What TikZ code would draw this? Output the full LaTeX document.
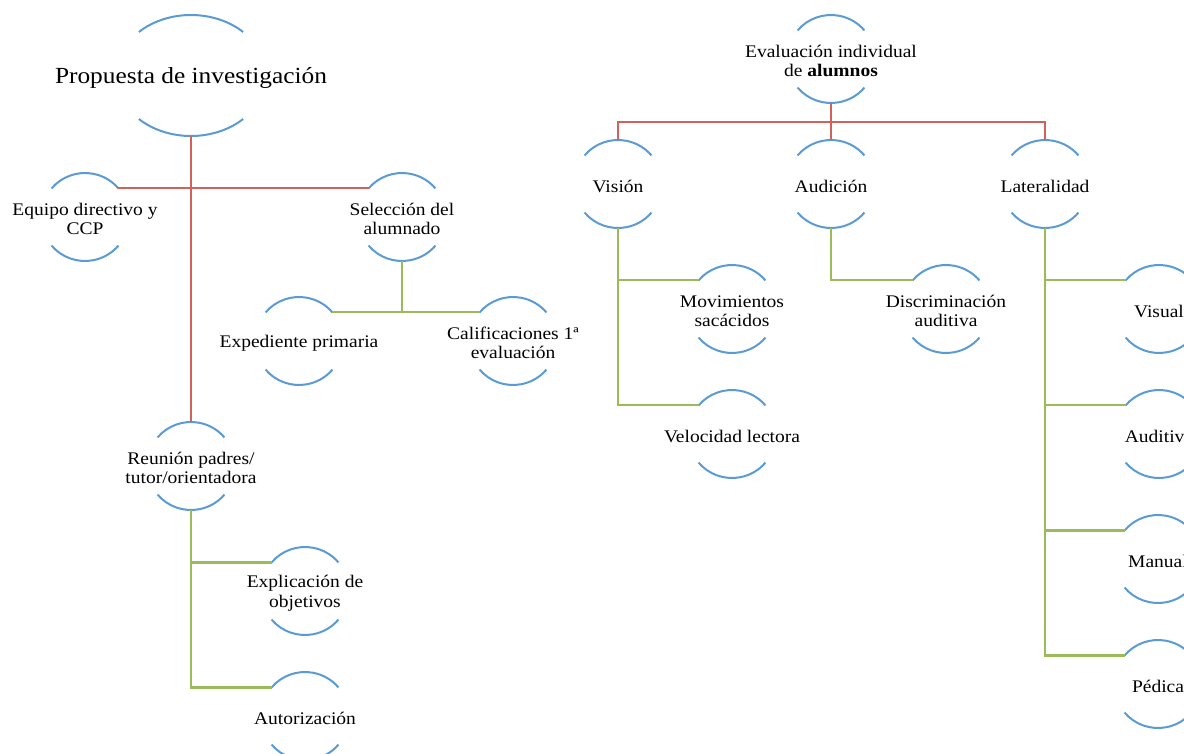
\documentclass[tikz,border=0pt]{standalone}
\usepackage{fontspec}
\setmainfont{Liberation Serif}[FakeStretch=1.1]
\usetikzlibrary{calc}
\definecolor{arcblue}{RGB}{91,155,213}
\definecolor{linered}{RGB}{208,98,92}
\definecolor{linegreen}{RGB}{155,187,89}
\tikzset{
  arcsty/.style={draw=arcblue, line width=1.5pt},
  redline/.style={draw=linered, line width=1.6pt},
  greenline/.style={draw=linegreen, line width=1.6pt},
  lbl/.style={inner sep=0pt, align=center, yshift=-1.5pt, font=\fontsize{13.3}{14.6}\selectfont},
  biglbl/.style={inner sep=0pt, align=center, yshift=-2pt, font=\fontsize{17.3}{20}\selectfont},
}
% name, x, y, rx, ry, half-angle, text, label style
\newcommand{\hnode}[8]{%
  \node[#8] (#1) at (#2,#3) {#7};
  \path (#2,#3) ++({-#4*cos(#6)},{-#5*sin(#6)}) coordinate (#1-tl);
  \path (#2,#3) ++({#4*cos(#6)},{-#5*sin(#6)}) coordinate (#1-tr);
  \path (#2,#3) ++({-#4*cos(#6)},{#5*sin(#6)}) coordinate (#1-bl);
  \path (#2,#3) ++({#4*cos(#6)},{#5*sin(#6)}) coordinate (#1-br);
  \path (#2,#3) ++(0,{-#5}) coordinate (#1-t);
  \path (#2,#3) ++(0,{#5}) coordinate (#1-b);
  \draw[arcsty] (#1-tl) arc[start angle={180+#6}, end angle={360-#6}, x radius=#4, y radius=#5];
  \draw[arcsty] (#1-bl) arc[start angle={180-#6}, end angle={#6}, x radius=#4, y radius=#5];
}
\newcommand{\snode}[4]{\hnode{#1}{#2}{#3}{44}{44}{40.5}{#4}{lbl}}
\begin{document}
\begin{tikzpicture}[x=0.75pt, y=-0.75pt]
\useasboundingbox (0,0) rectangle (1184,753);
\clip (0,0) rectangle (1184,753);
\fill[white] (0,0) rectangle (1184,753);

% ---------- left tree ----------
\hnode{P}{191}{75.5}{75}{60.5}{46}{Propuesta de investigación}{biglbl}
\snode{E}{85}{217}{Equipo directivo y\\CCP}
\snode{S}{402}{217}{Selección del\\alumnado}
\snode{Ex}{299}{341}{Expediente primaria}
\snode{C}{513}{341}{Calificaciones 1ª\\evaluación}
\snode{R}{191}{466}{Reunión padres/\\tutor/orientadora}
\snode{Xo}{305}{591}{Explicación de\\objetivos}
\snode{A}{305}{716}{Autorización}

\draw[redline] (P-b) -- (R-t);
\draw[redline] (E-tr) -- (S-tl);
\draw[greenline] (S-b) -- (S-b |- Ex-tr);
\draw[greenline] (Ex-tr) -- (C-tl);
\draw[greenline] (R-b) |- (A-tl);
\draw[greenline] (R-b |- Xo-tl) -- (Xo-tl);

% ---------- right tree ----------
\snode{Ev}{831}{59}{Evaluación individual\\de \textbf{alumnos}}
\snode{V}{618}{184}{Visión}
\snode{Au}{831}{184}{Audición}
\snode{L}{1045}{184}{Lateralidad}
\snode{M}{732}{309}{Movimientos\\sacácidos}
\snode{Ve}{732}{434}{Velocidad lectora}
\snode{D}{946}{309}{Discriminación\\auditiva}
\snode{Vi}{1159}{309}{Visual}
\snode{Ad}{1159}{434}{Auditiva}
\snode{Ma}{1158}{559}{Manual}
\snode{Pe}{1158}{684}{Pédica}

\coordinate (rbus) at (831,122);
\draw[redline] (Ev-b) -- (Au-t);
\draw[redline] (V-t) -- (V-t |- rbus) -- (L-t |- rbus) -- (L-t);

\draw[greenline] (V-b) |- (Ve-tl);
\draw[greenline] (V-b |- M-tl) -- (M-tl);
\draw[greenline] (Au-b) |- (D-tl);
\draw[greenline] (L-b) |- (Pe-tl);
\draw[greenline] (L-b |- Vi-tl) -- (Vi-tl);
\draw[greenline] (L-b |- Ad-tl) -- (Ad-tl);
\draw[greenline] (L-b |- Ma-tl) -- (Ma-tl);
\end{tikzpicture}
\end{document}
